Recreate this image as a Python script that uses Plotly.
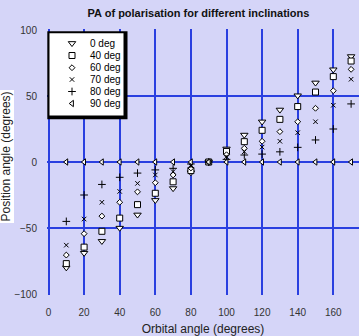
import plotly.graph_objects as go

# ---------------- data ----------------
orbital_angle = [10, 20, 30, 40, 50, 60, 70, 80, 90, 100, 110, 120, 130, 140, 150, 160, 170]
pa_inc_0 = [-80, -69, -60, -50, -40, -29, -20, -8, 0, 10, 20.5, 30.5, 39.5, 50.3, 60, 70, 80]
pa_inc_40 = [-77, -64.5, -52.5, -42.5, -32.3, -23.7, -15, -6.5, 0, 8, 15.4, 24, 32.3, 42, 53, 64.7, 76.5]
pa_inc_60 = [-70.5, -54.3, -41, -30.5, -22.6, -15.7, -9.8, -4.5, 0, 5.5, 10.4, 15.7, 23, 30.5, 40.7, 54, 70.2]
pa_inc_70 = [-63, -43.2, -30.5, -22.3, -16.2, -9.8, -7.3, -3, 0, 4, 7.8, 11.3, 15.7, 22.2, 30.5, 43, 62.7]
pa_inc_80 = [-45, -25, -17, -11.6, -8.4, -6, -4.8, -1.5, 0, 2, 5.3, 6, 7.7, 11.1, 16.7, 25, 44]
pa_inc_90 = [0, 0, 0, 0, 0, 0, 0, 0, 0, 0, 0, 0, 0, 0, 0, 0, 0]

series_labels = ["0 deg", "40 deg", "60 deg", "70 deg", "80 deg", "90 deg"]
series_values = [pa_inc_0, pa_inc_40, pa_inc_60, pa_inc_70, pa_inc_80, pa_inc_90]

x_tick_values = [0, 20, 40, 60, 80, 100, 120, 140, 160]
y_tick_values = [-100, -50, 0, 50, 100]

# ---------------- styles ----------------
symbols = ["triangle-down", "square", "diamond", "x-thin", "cross-thin", "triangle-left"]
sizes = [6.5, 6, 4.5, 4.5, 5.5, 5.5]

BG = "#d5d5f8"
GRID = "#2a3fe0"
FONT = "Arial, Liberation Sans, sans-serif"

W, H = 359, 336
ML, MT, MB = 47, 29, 41
PX_PER_X = 1.78
X0 = -0.84
PLOT_W = W - ML
PLOT_H = H - MT - MB
Y_RANGE = [-100.76, 100.76]


def px2x(px):
    return X0 + (px - ML) / PX_PER_X


def py2y(py):
    return Y_RANGE[1] - (py - MT) * (Y_RANGE[1] - Y_RANGE[0]) / PLOT_H


fig = go.Figure()

for name, vals, sym, sz in zip(series_labels, series_values, symbols, sizes):
    fig.add_trace(go.Scatter(
        x=orbital_angle, y=vals, mode="markers", name=name, showlegend=False,
        marker=dict(symbol=sym, size=sz, color="white",
                    line=dict(color="black", width=1)),
        cliponaxis=False,
    ))

# ---- hand-made legend (compact rows like the original) ----
leg_sym_x = 72
leg_txt_x = 87.5
leg_row_y = [43.3, 55.5, 67.7, 79.5, 91.5, 103.5]

for name, sym, sz, ry in zip(series_labels, symbols, sizes, leg_row_y):
    fig.add_trace(go.Scatter(
        x=[leg_sym_x], y=[ry], xaxis="x2", yaxis="y2", mode="markers",
        showlegend=False, hoverinfo="skip",
        marker=dict(symbol=sym, size=sz, color="white",
                    line=dict(color="black", width=1)),
    ))
    fig.add_annotation(x=leg_txt_x, y=ry, xref="x2", yref="y2", text=name,
                       showarrow=False, xanchor="left", yanchor="middle",
                       font=dict(family=FONT, size=10, color="black"))

# legend box: black (shadow) rect + white rect, between grid and traces
fig.add_shape(type="rect", xref="x", yref="y", layer="between",
              x0=px2x(47.3), x1=px2x(127.5), y0=py2y(31.3), y1=py2y(119.3),
              fillcolor="black", line=dict(width=0))
fig.add_shape(type="rect", xref="x", yref="y", layer="between",
              x0=px2x(49.5), x1=px2x(123.5), y0=py2y(33.3), y1=py2y(115.5),
              fillcolor="white", line=dict(width=0))

# y-axis title with white background
fig.add_annotation(text="Position angle (degrees)", textangle=-90,
                   xref="paper", yref="paper",
                   x=(5.5 - ML) / PLOT_W, y=(H - MB - 157) / PLOT_H,
                   xanchor="center", yanchor="middle", showarrow=False,
                   bgcolor="white", font=dict(family=FONT, size=12, color="#222"))

fig.update_layout(
    width=W, height=H,
    margin=dict(l=ML, r=0, t=MT, b=MB, pad=0, autoexpand=False),
    paper_bgcolor=BG, plot_bgcolor=BG,
    font=dict(family=FONT, size=10, color="#333"),
    hovermode=False,
    title=dict(text="<b>PA of polarisation for different inclinations</b>",
               xref="paper", x=(198.5 - ML) / PLOT_W, xanchor="center",
               y=1 - 13 / H, yanchor="middle",
               font=dict(family=FONT, size=11, color="#111")),
    xaxis=dict(range=[X0, X0 + PLOT_W / PX_PER_X], tickvals=x_tick_values,
               showgrid=True, gridcolor=GRID, gridwidth=1.5, zeroline=False,
               showline=False, ticks="outside", ticklen=8, automargin=False,
               tickcolor="rgba(0,0,0,0)", tickfont=dict(size=10, color="#333"),
               title=dict(text="Orbital angle (degrees)", standoff=18,
                          font=dict(family=FONT, size=12, color="#222"))),
    yaxis=dict(range=Y_RANGE, tickvals=y_tick_values, automargin=False,
               showgrid=True, gridcolor=GRID, gridwidth=1.5, zeroline=False,
               showline=False, ticks="outside", ticklen=7,
               tickcolor="rgba(0,0,0,0)", tickfont=dict(size=10, color="#333")),
    xaxis2=dict(overlaying="x", anchor="y2", range=[ML, W], visible=False,
                fixedrange=True),
    yaxis2=dict(overlaying="y", anchor="x2", range=[H - MB, MT], visible=False,
                fixedrange=True),
    showlegend=False,
)

# remove the browser's default 8px body margin so the figure sits at (0, 0)
fig.write_html(
    "out.html",
    config={"displayModeBar": False},
    post_script="document.body.style.margin='0';"
                "document.body.style.background='" + BG + "';",
)
